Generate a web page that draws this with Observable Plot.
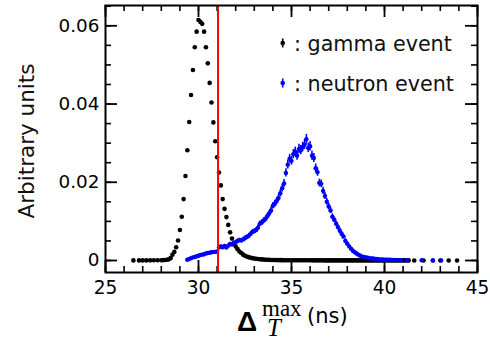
<!DOCTYPE html>
<html><head><meta charset="utf-8">
<script src="https://cdn.jsdelivr.net/npm/d3@7"></script>
<script src="https://cdn.jsdelivr.net/npm/@observablehq/plot@0.6"></script>
<style>body{margin:0;background:#fff} svg{display:block}</style>
</head><body><div id="chart"></div>
<script>
// ---- data ----
const gammaTime = [
  26.5,26.8,27.0,27.2,27.4,27.6,27.8,28.0,28.1,28.2,28.3,28.4,28.5,
  28.6,28.7,28.8,28.9,29.0,29.1,29.2,29.3,29.4,29.5,29.6,29.7,29.8,29.9,
  30.0,30.1,30.2,30.3,30.4,30.5,30.6,30.7,30.8,30.9,31.0,31.1,31.2,31.3,
  31.4,31.5,31.6,31.7,31.8,31.9,32.0,32.1,32.2,32.3,32.4,32.5,32.6,32.7,
  32.8,32.9,33.0,33.1,33.2,33.3,33.4,33.5,33.6,33.7,33.8,33.9,34.0,
  34.1,34.2,34.3,34.4,34.5,34.6,34.7,34.8,34.9,35.0,35.1,35.2,35.3,35.4,
  35.5,35.6,35.7,35.8,35.9,36.0,36.1,36.2,36.3,36.4,36.5,36.6,36.7,36.8,
  36.9,37.0,37.1,37.2,37.3,37.4,37.5,37.6,37.7,37.8,37.9,38.0,38.1,38.2,
  38.3,38.4,38.5,38.6,38.7,38.8,38.9,39.0,39.1,39.2,39.3,39.4,39.5,39.6,
  39.7,39.8,39.9,40.0,40.1,40.2,40.3,40.4,40.5,40.6,40.7,40.8,40.9,41.0,
  41.1,41.2,41.3,41.6,42.1,42.6,43.0,43.45,43.9
];
const gammaValue = [
  0.00002,0.00002,0.00003,0.00003,0.00004,0.00005,0.00006,0.00008,0.0001,0.00013,0.0002,0.0003,0.0006,
  0.0015,0.0022,0.0034,0.0051,0.0078,0.0112,0.0157,0.0216,0.0282,0.0354,0.0423,0.0487,0.0545,0.0585,
  0.0615,0.0610,0.0605,0.0585,0.0545,0.0504,0.0454,0.0404,0.0353,0.0305,0.0264,0.0225,0.0192,0.0157,
  0.0132,0.0111,0.0091,0.0072,0.0056,0.0044,0.0036,0.0029,0.0023,0.0019,0.0015,0.0012,0.0010,0.00085,
  0.0007,0.0006,0.0005,0.00043,0.00037,0.00032,0.00028,0.00024,0.0002,0.00018,0.00016,0.00014,0.00012,
  0.00011,0.0001,0.0001,0.00009,0.00009,0.00008,0.00008,0.00008,0.00007,0.00007,0.00007,0.00006,0.00006,0.00006,
  0.00006,0.00005,0.00005,0.00005,0.00005,0.00005,0.00004,0.00004,0.00004,0.00004,0.00004,0.00004,0.00004,0.00003,
  0.00003,0.00003,0.00003,0.00003,0.00003,0.00003,0.00003,0.00003,0.00003,0.00003,0.00002,0.00002,0.00002,0.00002,
  0.00002,0.00002,0.00002,0.00002,0.00002,0.00002,0.00002,0.00002,0.00002,0.00002,0.00002,0.00002,0.00002,0.00002,
  0.00002,0.00002,0.00002,0.00002,0.00002,0.00002,0.00002,0.00002,0.00002,0.00002,0.00002,0.00002,0.00002,0.00002,
  0.00002,0.00002,0.00002,0.00001,0.00001,0.00001,0.00001,0.00001,0.00001
];
const neutronTime = [
  29.4,29.5,29.6,29.7,29.8,29.9,30.0,30.1,30.2,30.3,30.4,30.5,30.6,30.7,30.8,30.9,
  31.0,31.1,31.2,31.3,31.4,31.5,31.6,31.7,31.8,31.9,32.0,32.1,32.2,32.3,32.4,32.5,
  32.6,32.7,32.8,32.9,33.0,33.1,33.2,33.3,33.4,33.5,33.6,33.7,33.8,33.9,34.0,34.1,
  34.2,34.3,34.4,34.5,34.6,34.7,34.8,34.9,35.0,35.1,35.2,35.3,35.4,35.5,35.6,35.7,
  35.8,35.9,36.0,36.1,36.2,36.3,36.4,36.5,36.6,36.7,36.8,36.9,37.0,37.1,37.2,37.3,
  37.4,37.5,37.6,37.7,37.8,37.9,38.0,38.1,38.2,38.3,38.4,38.5,38.6,38.7,38.8,38.9,
  39.0,39.1,39.2,39.3,39.4,39.5,39.6,39.7,39.8,39.9,40.0,40.1,40.2,40.3,40.4,40.5,
  40.7,40.9,41.2,42.0,42.6,43.05
];
const neutronValue = [
  0.0002,0.0004,0.0006,0.0008,0.0009,0.0011,0.0012,0.0014,0.0015,0.0016,0.0018,0.0019,0.0020,0.0021,0.0022,0.0022,
  0.0023,0.0033,0.0036,0.0034,0.0037,0.0033,0.0038,0.0042,0.0041,0.0045,0.0047,0.0050,0.0052,0.0051,0.0054,0.0057,
  0.0060,0.0063,0.0068,0.0073,0.0075,0.0078,0.0084,0.0094,0.0097,0.0102,0.0106,0.0113,0.0120,0.0128,0.0140,0.0145,
  0.0152,0.0160,0.0172,0.0185,0.0197,0.0224,0.0245,0.0260,0.0255,0.0272,0.0278,0.0268,0.0285,0.0282,0.0290,0.0296,
  0.0310,0.0288,0.0292,0.0268,0.0262,0.0236,0.0226,0.0198,0.0196,0.0178,0.0165,0.0150,0.0138,0.0128,0.0112,0.0104,
  0.0094,0.0085,0.0076,0.0068,0.0061,0.0050,0.0043,0.0036,0.0030,0.0025,0.0021,0.0018,0.0015,0.0012,0.0010,0.0009,
  0.0008,0.0007,0.0006,0.0005,0.0005,0.0004,0.0004,0.0003,0.0003,0.0003,0.0002,0.0002,0.0002,0.0002,0.00015,0.00012,
  0.0001,0.0001,0.00008,0.00005,0.00004,0.00003
];
const cutTime = [31.05];
const xTicks = [25, 30, 35, 40, 45];
const xMinorTicks = d3.range(25, 45.01, 1);
const yTicks = [0, 0.02, 0.04, 0.06];
const yMinorTicks = d3.range(0, 0.0651, 0.005);
const legendLabels = [": gamma event", ": neutron event"];

const gamma = gammaTime.map((t, i) => ({t, v: gammaValue[i]}));
const neutron = neutronTime.map((t, i) => ({t, v: neutronValue[i], e: Math.sqrt(neutronValue[i] * 0.00005)}));

const W = 490, H = 342, mL = 105, mR = 13, mT = 5, mB = 70;
const fw = W - mL - mR, fh = H - mT - mB;
const font = "'DejaVu Sans', Verdana, sans-serif";
const serif = "'Liberation Serif', 'DejaVu Serif', serif";

const plot = Plot.plot({
  width: W, height: H,
  marginLeft: mL, marginRight: mR, marginTop: mT, marginBottom: mB,
  style: {fontFamily: font, color: "#000", background: "#fff"},
  x: {domain: [25, 45], label: null},
  y: {domain: [-0.003068, 0.06519], label: null},
  marks: [
    // inward ticks
    Plot.tickX(xMinorTicks, {x: d => d, insetTop: fh - 6, stroke: "#000", strokeWidth: 1.6}),
    Plot.tickX(xMinorTicks, {x: d => d, insetBottom: fh - 6, stroke: "#000", strokeWidth: 1.6}),
    Plot.tickX(xTicks, {x: d => d, insetTop: fh - 12, stroke: "#000", strokeWidth: 1.8}),
    Plot.tickX(xTicks, {x: d => d, insetBottom: fh - 12, stroke: "#000", strokeWidth: 1.8}),
    Plot.tickY(yMinorTicks, {y: d => d, insetRight: fw - 6, stroke: "#000", strokeWidth: 1.6}),
    Plot.tickY(yMinorTicks, {y: d => d, insetLeft: fw - 6, stroke: "#000", strokeWidth: 1.6}),
    Plot.tickY(yTicks, {y: d => d, insetRight: fw - 12, stroke: "#000", strokeWidth: 1.8}),
    Plot.tickY(yTicks, {y: d => d, insetLeft: fw - 12, stroke: "#000", strokeWidth: 1.8}),
    Plot.axisX({ticks: xTicks, tickSize: 0, tickPadding: 8, fontSize: 18.6, tickFormat: d => String(d), fill: "#000"}),
    Plot.axisY({ticks: yTicks, tickSize: 0, tickPadding: 6, fontSize: 18.4, tickFormat: d => d === 0 ? "0" : d.toFixed(2), fill: "#000"}),
    Plot.dot(gamma, {x: "t", y: "v", r: 2.3, fill: "#000", stroke: null}),
    Plot.ruleX(neutron, {x: "t", y1: d => d.v - d.e, y2: d => d.v + d.e, stroke: "#0000ff", strokeWidth: 1.6}),
    Plot.ruleY(neutron, {y: "v", x1: d => d.t - 0.08, x2: d => d.t + 0.08, stroke: "#0000ff", strokeWidth: 1.4}),
    Plot.dot(neutron, {x: "t", y: "v", r: 2.2, fill: "#0000ff", stroke: null}),
    Plot.ruleX(cutTime, {stroke: "#ff0000", strokeWidth: 2}),
    Plot.frame({stroke: "#000", strokeWidth: 2})
  ]
});
document.getElementById("chart").appendChild(plot);

const svg = d3.select(plot);
// y title
svg.append("text")
  .attr("transform", "translate(34,141) rotate(-90)")
  .attr("text-anchor", "middle")
  .style("font-family", font).style("font-size", "21.5px").attr("fill", "#111")
  .text("Arbitrary units");
// x title  Δ_T^max (ns) as one text element with tspans
const xt = svg.append("text").attr("fill", "#000").attr("text-anchor", "start")
  .attr("x", 237).attr("y", 331);
xt.append("tspan").attr("x", 237).attr("y", 331)
  .style("font-family", "'Liberation Sans', Arial, sans-serif").style("font-size", "28px").style("font-weight", "bold").text("Δ");
xt.append("tspan").attr("x", 267).attr("y", 336)
  .style("font-family", serif).style("font-size", "25px").style("font-style", "italic").text("T");
xt.append("tspan").attr("x", 262).attr("y", 316)
  .style("font-family", serif).style("font-size", "23px").text("max");
xt.append("tspan").attr("x", 307).attr("y", 323)
  .style("font-family", font).style("font-size", "21px").text("(ns)");
// legend
const legendColors = ["#000", "#0000ff"];
const legendY = [43, 83];
legendLabels.forEach((lab, i) => {
  const g = svg.append("g").attr("text-anchor", "start");
  g.append("line").attr("x1", 282.7).attr("x2", 282.7).attr("y1", legendY[i] - 4.5).attr("y2", legendY[i] + 4.5)
    .attr("stroke", legendColors[i]).attr("stroke-width", 1.6);
  g.append("circle").attr("cx", 282.7).attr("cy", legendY[i]).attr("r", 2.3).attr("fill", legendColors[i]);
  g.append("text").attr("x", 294).attr("y", legendY[i] + 8)
    .style("font-family", font).style("font-size", "20.7px").attr("fill", "#111").text(lab);
});
</script>
</body></html>
